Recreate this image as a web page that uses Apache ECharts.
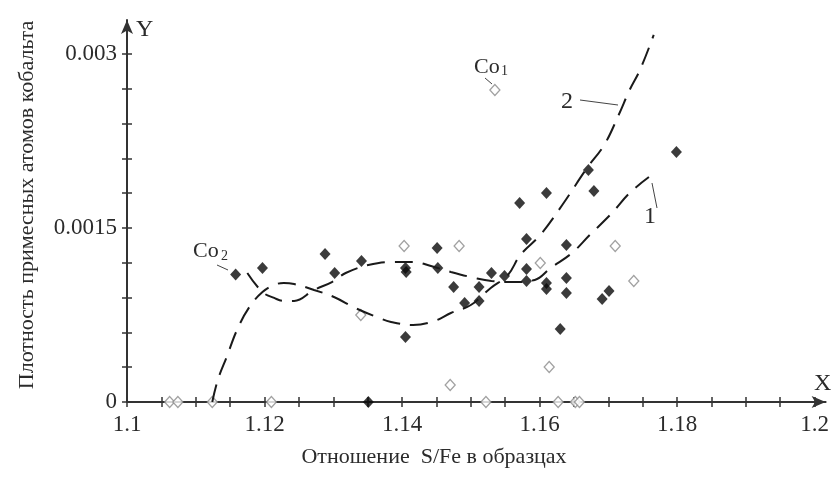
<!DOCTYPE html>
<html>
<head>
<meta charset="utf-8">
<script src="https://cdn.jsdelivr.net/npm/echarts@6/dist/echarts.min.js"></script>
<style>
  html, body { margin: 0; background: #fff; }
  #chart { width: 832px; height: 477px; }
</style>
</head>
<body>
<div id="chart"></div>
<script>
// axis ticks and labels
const xTicks = [1.1, 1.105, 1.11, 1.115, 1.12, 1.125, 1.13, 1.135, 1.14, 1.145, 1.15,
  1.155, 1.16, 1.165, 1.17, 1.175, 1.18, 1.185, 1.19, 1.195, 1.2]
const xLabels = [1.1, 1.12, 1.14, 1.16, 1.18, 1.2]
const yTicks = [0, 0.0003, 0.0006, 0.0009, 0.0012, 0.0015, 0.0018, 0.0021, 0.0024, 0.0027, 0.003]
const yLabels = [0, 0.0015, 0.003]

// Co2 - filled diamonds
const co2Points = [
  [1.1158, 0.00110], [1.1197, 0.001155], [1.1288, 0.001276], [1.1302, 0.001112],
  [1.1341, 0.001216], [1.1351, 0], [1.1405, 0.001155], [1.1406, 0.001121],
  [1.1405, 0.00056], [1.1451, 0.001328], [1.1452, 0.001155], [1.1475, 0.000991],
  [1.1491, 0.000853], [1.1512, 0.000991], [1.1512, 0.000871], [1.1530, 0.001112],
  [1.1549, 0.001086], [1.1571, 0.001716], [1.1581, 0.001405], [1.1581, 0.001147],
  [1.1581, 0.001043], [1.1610, 0.001802], [1.1610, 0.001026], [1.1610, 0.000974],
  [1.1639, 0.001353], [1.1639, 0.001069], [1.1639, 0.00094], [1.1630, 0.000629],
  [1.1671, 0.0020], [1.1679, 0.001819], [1.1691, 0.000888], [1.1701, 0.000957],
  [1.1799, 0.002155]
]

// Co1 - open diamonds
const co1Points = [
  [1.1535, 0.00269], [1.1403, 0.001345], [1.1483, 0.001345], [1.1340, 0.00075],
  [1.1601, 0.001198], [1.1614, 0.000302], [1.1470, 0.000147], [1.1710, 0.001345],
  [1.1737, 0.001043], [1.1062, 0], [1.1074, 0], [1.1124, 0], [1.1210, 0],
  [1.1522, 0], [1.1627, 0], [1.1652, 0], [1.1658, 0]
]

// fitted curve 1
const curve1 = [
  [1.1175, 0.001112], [1.1197, 0.000948], [1.1214, 0.000897], [1.1228, 0.000871],
  [1.1243, 0.000871], [1.1272, 0.000966], [1.1298, 0.001034], [1.1318, 0.001112],
  [1.1351, 0.001181], [1.1384, 0.001207], [1.1416, 0.001207], [1.1442, 0.001172],
  [1.1471, 0.001121], [1.1506, 0.001069], [1.1530, 0.001043], [1.1561, 0.001034],
  [1.1593, 0.001052], [1.1616, 0.001155], [1.1647, 0.001284], [1.1673, 0.00144],
  [1.1704, 0.001621], [1.1731, 0.001802], [1.1759, 0.00194]
]

// fitted curve 2
const curve2 = [
  [1.1124, 0], [1.1132, 0.00019], [1.1145, 0.000388], [1.1160, 0.000621],
  [1.1178, 0.000819], [1.1197, 0.000948], [1.1214, 0.001009], [1.1228, 0.001026],
  [1.1243, 0.001017], [1.1272, 0.000966], [1.1301, 0.000905], [1.1332, 0.00081],
  [1.1363, 0.000733], [1.1384, 0.00069], [1.1416, 0.000664], [1.1447, 0.000698],
  [1.1471, 0.000767], [1.1500, 0.000836], [1.1529, 0.000983], [1.1554, 0.001095],
  [1.1572, 0.001267], [1.1601, 0.00144], [1.1633, 0.001698], [1.1669, 0.002017],
  [1.1694, 0.002216], [1.1715, 0.002474], [1.1731, 0.00269], [1.1746, 0.002862],
  [1.1766, 0.003164]
]

const FONT = '"Liberation Serif", "DejaVu Serif", serif'
const INK = '#2b2b2b'

const chart = echarts.init(document.getElementById('chart'))

// two axes on the same side: one with ticks outside, one inside -> ticks cross the line
function makeX (main) {
  return {
    type: 'value',
    position: 'bottom',
    min: 1.1,
    max: 1.2016,
    axisLine: main
      ? { show: true, symbol: ['none', 'arrow'], symbolSize: [9, 14], lineStyle: { color: '#333', width: 2 } }
      : { show: false },
    axisTick: {
      show: true,
      inside: !main,
      length: 5,
      customValues: xTicks,
      lineStyle: { color: '#333', width: 1.5 }
    },
    axisLabel: {
      show: main,
      customValues: xLabels,
      margin: 11,
      color: INK,
      fontFamily: FONT,
      fontSize: 23
    },
    splitLine: { show: false }
  }
}

function makeY (main) {
  return {
    type: 'value',
    position: 'left',
    min: 0,
    max: 0.003293,
    axisLine: main
      ? { show: true, symbol: ['none', 'arrow'], symbolSize: [9, 14], lineStyle: { color: '#333', width: 2 } }
      : { show: false },
    axisTick: {
      show: true,
      inside: !main,
      length: 5,
      customValues: yTicks,
      lineStyle: { color: '#333', width: 1.5 }
    },
    axisLabel: {
      show: main,
      customValues: yLabels,
      margin: 10,
      color: INK,
      fontFamily: FONT,
      fontSize: 23
    },
    splitLine: { show: false }
  }
}

const dashed = { color: '#1a1a1a', width: 2, type: [18, 10] }

chart.setOption({
  animation: false,
  backgroundColor: '#fff',
  grid: { left: 127, right: 2, top: 20, bottom: 75 },
  xAxis: [makeX(true), makeX(false)],
  yAxis: [makeY(true), makeY(false)],
  series: [
    {
      type: 'line', data: curve1, smooth: 0.4, symbol: 'none', clip: false,
      lineStyle: dashed
    },
    {
      type: 'line', data: curve2, smooth: 0.4, symbol: 'none', clip: false,
      lineStyle: dashed
    },
    {
      type: 'scatter', data: co1Points, symbol: 'diamond', symbolSize: [10, 11], clip: false,
      itemStyle: { color: '#fff', borderColor: '#8a8a8a', borderWidth: 1.3 }
    },
    {
      type: 'scatter', data: co2Points, symbol: 'diamond', symbolSize: [11, 12], clip: false,
      itemStyle: { color: '#0a0a0a' }
    }
  ],
  graphic: [
    { type: 'text', x: 136, y: 18, style: { text: 'Y', fill: INK, fontFamily: FONT, fontSize: 24 } },
    { type: 'text', x: 814, y: 372, style: { text: 'X', fill: INK, fontFamily: FONT, fontSize: 24 } },
    { type: 'text', x: 193, y: 240, style: { text: 'Co', fill: INK, fontFamily: FONT, fontSize: 22 } },
    { type: 'text', x: 221, y: 249, style: { text: '2', fill: INK, fontFamily: FONT, fontSize: 14 } },
    { type: 'text', x: 474, y: 56, style: { text: 'Co', fill: INK, fontFamily: FONT, fontSize: 22 } },
    { type: 'text', x: 501, y: 64, style: { text: '1', fill: INK, fontFamily: FONT, fontSize: 14 } },
    { type: 'text', x: 561, y: 90, style: { text: '2', fill: INK, fontFamily: FONT, fontSize: 24 } },
    { type: 'text', x: 644, y: 205, style: { text: '1', fill: INK, fontFamily: FONT, fontSize: 24 } },
    { type: 'line', shape: { x1: 217, y1: 265, x2: 228, y2: 270 }, style: { stroke: '#444', lineWidth: 1 } },
    { type: 'line', shape: { x1: 485, y1: 78, x2: 492, y2: 84 }, style: { stroke: '#444', lineWidth: 1 } },
    { type: 'line', shape: { x1: 580, y1: 100, x2: 618, y2: 105 }, style: { stroke: '#444', lineWidth: 1 } },
    { type: 'line', shape: { x1: 652, y1: 183, x2: 657, y2: 208 }, style: { stroke: '#444', lineWidth: 1 } },
    {
      type: 'text', x: 434, y: 457,
      style: { text: 'Отношение  S/Fe в образцах', fill: INK, fontFamily: FONT, fontSize: 22, align: 'center', verticalAlign: 'middle' }
    },
    {
      type: 'text', x: 27, y: 205, rotation: Math.PI / 2,
      style: { text: 'Плотность примесных атомов кобальта', fill: INK, fontFamily: FONT, fontSize: 22, align: 'center', verticalAlign: 'middle' }
    }
  ]
})
</script>
</body>
</html>
